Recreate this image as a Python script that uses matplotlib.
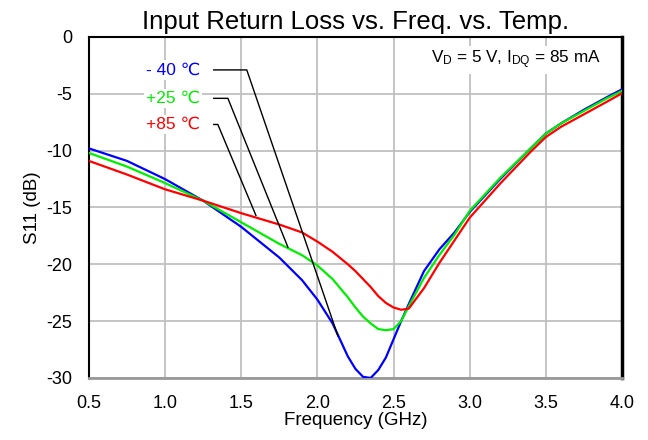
import matplotlib
matplotlib.use("Agg")
import matplotlib.pyplot as plt

plt.rcParams['font.family'] = ['Liberation Sans', 'DejaVu Sans']
plt.rcParams['axes.unicode_minus'] = False
plt.rcParams['mathtext.fontset'] = 'custom'
plt.rcParams['mathtext.rm'] = 'Liberation Sans'
plt.rcParams['mathtext.default'] = 'regular'

freq = [0.5, 0.75, 1.0, 1.25, 1.5, 1.75, 1.9, 2.0, 2.1, 2.2, 2.25, 2.3, 2.35, 2.4,
        2.45, 2.5, 2.55, 2.6, 2.7, 2.8, 2.9, 3.0, 3.2, 3.4, 3.5, 3.6, 3.75, 3.9, 4.0]
s11_m40 = [-9.8, -10.9, -12.5, -14.4, -16.7, -19.4, -21.4, -23.1, -25.2, -28.1, -29.2,
           -29.9, -30.0, -29.3, -28.2, -26.6, -25.0, -23.5, -20.6, -18.7, -17.2, -15.4,
           -12.5, -9.8, -8.5, -7.6, -6.4, -5.3, -4.6]
s11_25 = [-10.2, -11.4, -12.85, -14.4, -16.3, -18.2, -19.2, -20.1, -21.3, -22.9, -23.8,
          -24.6, -25.2, -25.7, -25.8, -25.7, -25.0, -23.7, -21.2, -19.2, -17.4, -15.3,
          -12.4, -9.8, -8.5, -7.6, -6.5, -5.4, -4.75]
s11_85 = [-10.9, -12.1, -13.4, -14.4, -15.5, -16.5, -17.2, -18.0, -18.9, -20.0, -20.6,
          -21.3, -22.0, -22.8, -23.4, -23.8, -24.0, -23.9, -22.1, -19.9, -17.9, -15.9,
          -12.9, -10.1, -8.8, -7.9, -6.8, -5.7, -4.95]

labels = ['- 40 \u2103', '+25 \u2103', '+85 \u2103']
colors = ['#0000ff', '#00ee00', '#ff0000']
label_y = [-2.9, -5.4, -7.7]
leader_start_x = 1.32
leader_corner_x = [1.537, 1.413, 1.347]
leader_end = [(2.135, -26.3), (1.807, -18.5), (1.597, -15.7)]

xticks = [0.5, 1.0, 1.5, 2.0, 2.5, 3.0, 3.5, 4.0]
yticks = [0, -5, -10, -15, -20, -25, -30]

fig = plt.figure(figsize=(6.48, 4.4), dpi=100)
ax = fig.add_axes([0.137, 0.141, 0.823, 0.775])

for y, c in zip([s11_m40, s11_25, s11_85], colors):
    ax.plot(freq, y, color=c, lw=1.6, zorder=3)

for lab, c, ly, cx, (ex, ey) in zip(labels, colors, label_y, leader_corner_x, leader_end):
    ax.plot([leader_start_x, cx, ex], [ly, ly, ey], color='black', lw=1.0, zorder=4)
    ax.text(1.23, ly, lab, color=c, fontsize=12.5, ha='right', va='center', zorder=5,
            bbox=dict(facecolor='white', edgecolor='none', pad=1.5))

ax.text(3.30, -2.0, 'V$_D$ = 5 V, I$_{DQ}$ = 85 mA', fontsize=12.3, ha='center', va='center',
        zorder=5, bbox=dict(facecolor='white', edgecolor='none', pad=2))

ax.set_xlim(0.5, 4.0)
ax.set_ylim(-30, 0)
ax.set_xticks(xticks)
ax.set_xticklabels([f'{t:.1f}' for t in xticks])
ax.set_yticks(yticks)
ax.set_yticklabels([str(t) for t in yticks])
ax.tick_params(length=0, labelsize=13)
ax.tick_params(axis='x', pad=12)
ax.tick_params(axis='y', pad=12)
ax.grid(True, color='#c0c0c0', lw=1.3)
ax.set_axisbelow(True)
for s in ['left', 'top']:
    ax.spines[s].set_color('black')
    ax.spines[s].set_linewidth(1.5)
ax.spines['right'].set_color('black')
ax.spines['right'].set_linewidth(2.5)
ax.spines['bottom'].set_color('#999999')
ax.spines['bottom'].set_linewidth(2)

ax.set_title('Input Return Loss vs. Freq. vs. Temp.', fontsize=18.5, pad=6)
ax.set_xlabel('Frequency (GHz)', fontsize=13.5, labelpad=0)
ax.set_ylabel('S11 (dB)', fontsize=13.5, labelpad=4)

fig.savefig('out.png', dpi=100)
